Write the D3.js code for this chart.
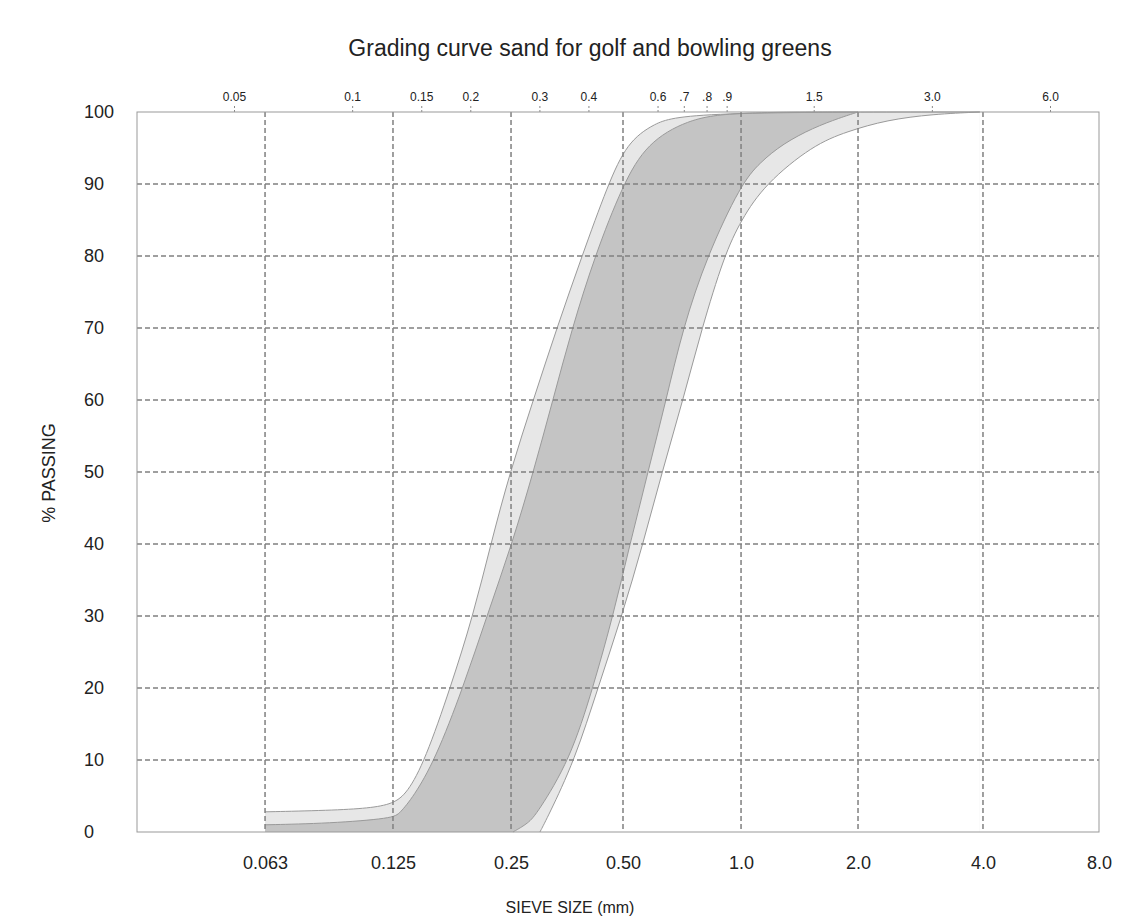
<!DOCTYPE html>
<html>
<head>
  <meta charset="utf-8">
  <title>Grading curve sand</title>
  <script src="https://d3js.org/d3.v7.min.js"></script>
  <style>
    body { margin: 0; background: #fff; }
    svg { font-family: "Liberation Sans", Arial, sans-serif; }
    .grid line { stroke: #808080; stroke-width: 1.5; stroke-dasharray: 5,3; }
    .axis path { display: none; }
    .axis text { fill: #222; }
    .top line { stroke: #888; stroke-dasharray: 2,2; }
  </style>
</head>
<body>
<svg id="chart"></svg>
<script>
  // sieve sizes on the bottom axis (mm) and their labels
  const bottomTicks = [0.063, 0.125, 0.25, 0.5, 1, 2, 4, 8];
  const bottomLabels = ["0.063", "0.125", "0.25", "0.50", "1.0", "2.0", "4.0", "8.0"];
  // extra sizes along the top
  const topTicks = [0.05, 0.1, 0.15, 0.2, 0.3, 0.4, 0.6, 0.7, 0.8, 0.9, 1.5, 3, 6];
  const topLabels = ["0.05", "0.1", "0.15", "0.2", "0.3", "0.4", "0.6", ".7", ".8", ".9", "1.5", "3.0", "6.0"];
  const yTicks = [0, 10, 20, 30, 40, 50, 60, 70, 80, 90, 100];

  // envelope curves [size mm, % passing]
  const outerLeft = [[0.063, 2.8], [0.089, 3.0], [0.11, 3.3], [0.125, 3.9], [0.136, 5.4], [0.151, 10], [0.175, 20], [0.200, 30],
    [0.222, 40], [0.2485, 50], [0.287, 60], [0.332, 70], [0.388, 80], [0.456, 90], [0.512, 95.7], [0.597, 98.4], [0.728, 100]];
  const innerLeft = [[0.063, 1.0], [0.089, 1.2], [0.125, 1.9], [0.130, 2.6], [0.141, 4.9], [0.160, 10], [0.1885, 20], [0.217, 30],
    [0.2515, 40], [0.287, 50], [0.324, 60], [0.365, 70], [0.420, 80], [0.5, 90], [0.576, 95.7], [0.728, 98.9], [0.937, 100]];
  const innerRight = [[0.253, 0], [0.278, 1.2], [0.294, 2.6], [0.360, 10], [0.415, 20], [0.470, 30], [0.521, 40], [0.579, 50],
    [0.644, 60], [0.711, 70], [0.819, 80], [1.0, 90], [1.119, 93.0], [1.282, 95.6], [1.532, 97.8], [1.798, 99.2], [2.0, 100]];
  const outerRight = [[0.299, 0], [0.314, 2.1], [0.371, 10], [0.428, 20], [0.4965, 30], [0.562, 40], [0.629, 50], [0.711, 60],
    [0.795, 70], [0.905, 80], [1.0, 85], [1.153, 90], [1.532, 95.4], [1.874, 97.3], [2.348, 98.9], [3.03, 99.7], [3.93, 100]];

  const W = 1142, H = 920;
  const margin = { top: 112, right: 43, bottom: 88, left: 137 };
  const width = W - margin.left - margin.right;
  const height = H - margin.top - margin.bottom;

  const svg = d3.select("#chart").attr("width", W).attr("height", H);
  const g = svg.append("g").attr("transform", `translate(${margin.left},${margin.top})`);

  // the printed scale is not quite even, so pin each doubling where it sits
  const gridFrac = [0, 0.1331, 0.2661, 0.3888, 0.5052, 0.6279, 0.7495, 0.8794, 1];
  const x = d3.scaleLog()
    .domain([0.0315].concat(bottomTicks))
    .range(gridFrac.map(f => f * width));
  const xTop = d3.scaleLog().domain([0.05, 6]).range([97, 913]);
  const y = d3.scaleLinear().domain([0, 100]).range([height, 0]);

  const area = d3.area().x(d => x(d[0])).y0(y(0)).y1(d => y(d[1])).curve(d3.curveBasis);
  const line = d3.line().x(d => x(d[0])).y(d => y(d[1])).curve(d3.curveBasis);

  const light = "#e7e7e7", dark = "#c4c4c4";
  const last = a => a[a.length - 1];
  // left curves run flat along 100% until the matching right curve gets there
  const olFull = outerLeft.concat([last(outerRight)]);
  const ilFull = innerLeft.concat([last(innerRight)]);

  // layered fills: light under outer-left, dark under inner-left,
  // light again under inner-right, white under outer-right
  g.append("path").attr("d", area(olFull)).attr("fill", light);
  g.append("path").attr("d", area(ilFull)).attr("fill", dark);
  g.append("path").attr("d", area(innerRight)).attr("fill", light);
  g.append("path").attr("d", area(outerRight)).attr("fill", "#fff");

  [olFull, ilFull, innerRight, outerRight].forEach(c => {
    g.append("path").attr("d", line(c)).attr("fill", "none")
      .attr("stroke", "#9a9a9a").attr("stroke-width", 1);
  });

  // dashed grid
  const grid = g.append("g").attr("class", "grid");
  grid.selectAll(".h").data(yTicks.slice(1, -1)).enter().append("line")
    .attr("x1", 0).attr("x2", width).attr("y1", d => y(d)).attr("y2", d => y(d));
  grid.selectAll(".v").data(bottomTicks.slice(0, -1)).enter().append("line")
    .attr("x1", d => x(d)).attr("x2", d => x(d)).attr("y1", 0).attr("y2", height);

  // axes
  g.append("g").attr("class", "axis")
    .attr("transform", `translate(0,${height})`)
    .call(d3.axisBottom(x).tickValues(bottomTicks).tickSize(0).tickPadding(24)
      .tickFormat((d, i) => bottomLabels[i]))
    .selectAll("text").style("font-size", "18px");

  g.append("g").attr("class", "axis")
    .call(d3.axisLeft(y).tickValues(yTicks).tickSize(0))
    .selectAll("text").attr("x", -53).attr("text-anchor", "start").style("font-size", "18px");

  g.append("g").attr("class", "axis top")
    .call(d3.axisTop(xTop).tickValues(topTicks).tickSize(8).tickPadding(3)
      .tickFormat((d, i) => topLabels[i]))
    .selectAll("text").style("font-size", "12px");

  // frame
  g.append("rect").attr("width", width).attr("height", height)
    .attr("fill", "none").attr("stroke", "#999").attr("stroke-width", 1);

  svg.append("text").attr("x", 590).attr("y", 56).attr("text-anchor", "middle")
    .style("font-size", "23px").attr("fill", "#222")
    .text("Grading curve sand for golf and bowling greens");

  svg.append("text").attr("x", 570).attr("y", 913).attr("text-anchor", "middle")
    .style("font-size", "16px").attr("fill", "#222")
    .text("SIEVE SIZE (mm)");

  svg.append("text").attr("transform", "translate(55,473) rotate(-90)")
    .attr("text-anchor", "middle").style("font-size", "18px").attr("fill", "#222")
    .text("% PASSING");
</script>
</body>
</html>
